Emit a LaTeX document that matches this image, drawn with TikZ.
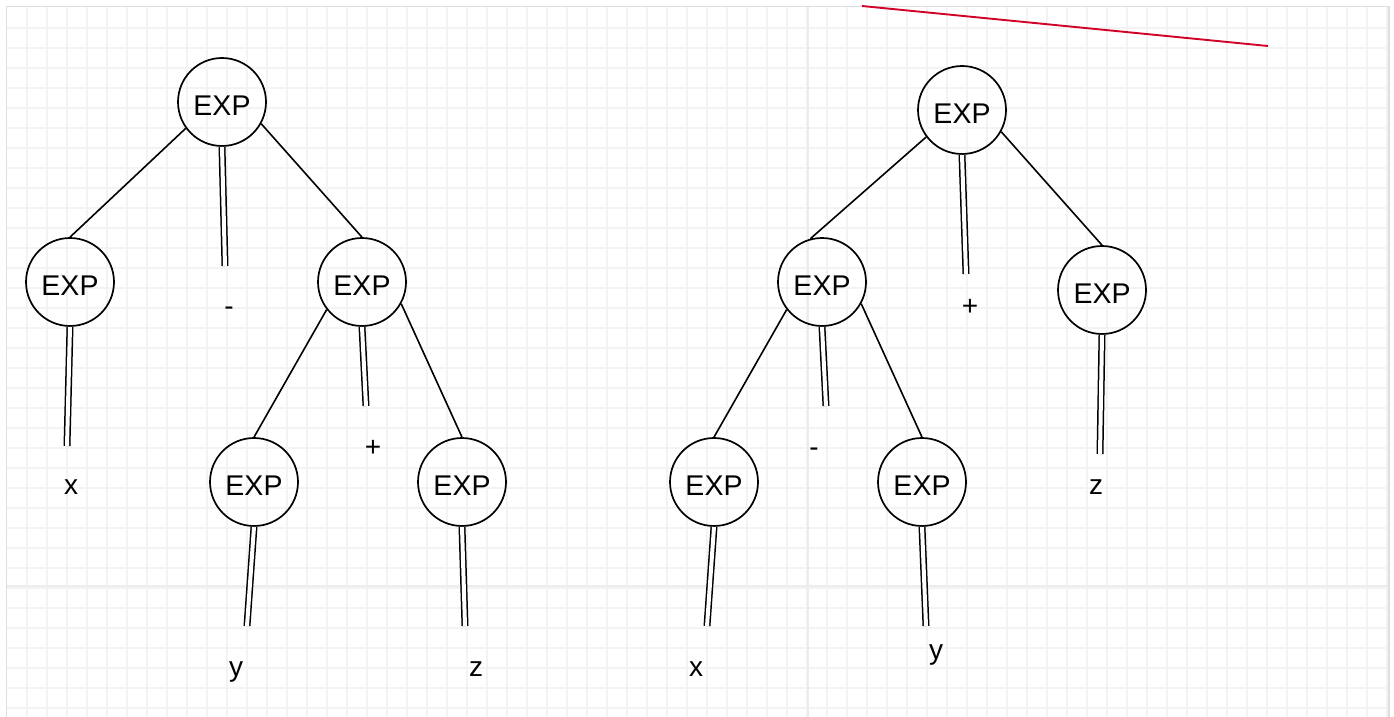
\documentclass[tikz,border=0pt]{standalone}
\usepackage{fontspec}
\setmainfont{Liberation Sans}
\definecolor{gridgray}{RGB}{243,243,243}
\definecolor{gridmajor}{RGB}{236,236,236}
\definecolor{framegray}{RGB}{222,222,222}
\definecolor{markred}{RGB}{208,2,40}
\begin{document}
\begin{tikzpicture}[x=1pt,y=-1pt,
  exp/.style={circle,draw,line width=1.7pt,minimum size=88pt,inner sep=0pt,
    text height=26pt,text depth=0pt,font=\fontsize{28.5}{30}\selectfont},
  sym/.style={inner sep=0pt,anchor=base,font=\fontsize{28}{30}\selectfont},
  branch/.style={line width=1.6pt},
  derive/.style={double,double distance=4pt,line width=1.5pt},
  gridline/.style={gridgray,line width=1.5pt},
  majorline/.style={gridmajor,line width=1.5pt},
  marker/.style={markred,line width=1.9pt}]
\useasboundingbox (0,0) rectangle (1394,717);

% background grid and frame
\foreach \gx in {27,47,...,1387} \draw[gridline] (\gx,6.5) -- (\gx,717);
\foreach \gy in {28,48,...,708} \draw[gridline] (6.5,\gy) -- (1389,\gy);
\draw[majorline] (808,6.5) -- (808,717);
\draw[majorline] (6.5,586) -- (1389,586);
\draw[framegray,line width=1.2pt] (6.5,717) -- (6.5,6.5) -- (1389,6.5) -- (1389,717);

% red stroke at the top
\coordinate (m1) at (862,6);
\coordinate (m2) at (1268,46);
\draw[marker] (m1) -- (m2);

% ---------- tree for x - (y + z) ----------
\node[exp] (r1) at (222,102) {EXP\hspace{4pt}};
\node[exp] (a1) at (70,282) {EXP\hspace{4pt}};
\node[exp] (b1) at (362,282) {EXP\hspace{4pt}};
\node[exp] (c1) at (254,482) {EXP\hspace{4pt}};
\node[exp] (d1) at (462,482) {EXP\hspace{4pt}};

\node[sym] (lm1) at (229,315) {-};
\node[sym] (lp1) at (373,456) {+};
\node[sym] (lx1) at (71,494) {x};
\node[sym] (ly1) at (236,676) {y};
\node[sym] (lz1) at (476,676) {z};

\coordinate (e1) at (225,266);
\coordinate (e2) at (67,446);
\coordinate (e3) at (366,406);
\coordinate (e4) at (247,626);
\coordinate (e5) at (465,626);

\draw[branch] (r1.216) -- (a1.90);
\draw[branch] (r1.331) -- (b1.90);
\draw[derive] (r1.south) -- (e1);
\draw[derive] (a1.south) -- (e2);
\draw[branch] (b1.218) -- (c1.90);
\draw[branch] (b1.331) -- (d1.90);
\draw[derive] (b1.south) -- (e3);
\draw[derive] (c1.south) -- (e4);
\draw[derive] (d1.south) -- (e5);

% ---------- tree for (x - y) + z ----------
\node[exp] (r2) at (962,110) {EXP\hspace{4pt}};
\node[exp] (a2) at (822,282) {EXP\hspace{4pt}};
\node[exp] (b2) at (1102,290) {EXP\hspace{4pt}};
\node[exp] (c2) at (714,482) {EXP\hspace{4pt}};
\node[exp] (d2) at (922,482) {EXP\hspace{4pt}};

\node[sym] (lp2) at (970,315) {+};
\node[sym] (lm2) at (814,456) {-};
\node[sym] (lz2) at (1096,494) {z};
\node[sym] (lx2) at (696,676) {x};
\node[sym] (ly2) at (936,659) {y};

\coordinate (f1) at (966,274);
\coordinate (f2) at (1100,454);
\coordinate (f3) at (826,406);
\coordinate (f4) at (707,626);
\coordinate (f5) at (926,626);

\draw[branch] (r2.217) -- (a2.105);
\draw[branch] (r2.331) -- (b2.90);
\draw[derive] (r2.south) -- (f1);
\draw[derive] (b2.south) -- (f2);
\draw[branch] (a2.218) -- (c2.90);
\draw[branch] (a2.331) -- (d2.90);
\draw[derive] (a2.south) -- (f3);
\draw[derive] (c2.south) -- (f4);
\draw[derive] (d2.south) -- (f5);
\end{tikzpicture}
\end{document}
